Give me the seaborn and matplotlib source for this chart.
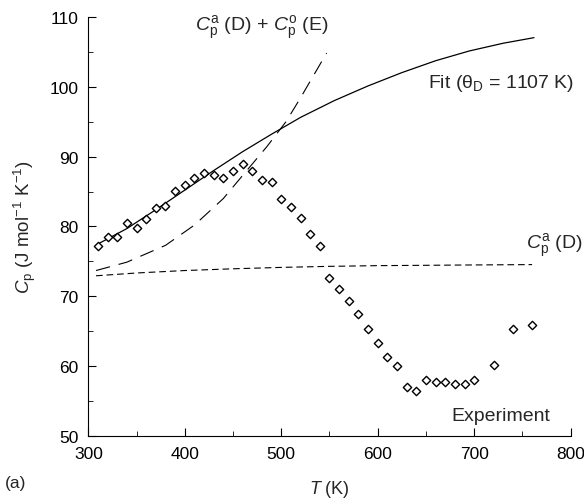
import numpy as np
import pandas as pd
import matplotlib
matplotlib.use("Agg")
import matplotlib.pyplot as plt
import seaborn as sns

# ---- data ----
exp_T = [310, 320, 330, 340, 350, 360, 370, 380, 390, 400,
         410, 420, 430, 440, 450, 460, 470, 480, 490, 500,
         510, 520, 530, 540, 550, 560, 570, 580, 590, 600,
         610, 620, 630, 640, 650, 660, 670, 680, 690, 700,
         720, 740, 760]
exp_Cp = [77.25, 78.45, 78.5, 80.5, 79.8, 81.0, 82.6, 82.9, 85.1, 86.0,
          86.9, 87.6, 87.3, 87.0, 87.9, 89.0, 87.9, 86.7, 86.3, 84.0,
          82.8, 81.2, 78.9, 77.2, 72.7, 71.0, 69.4, 67.5, 65.3, 63.3,
          61.3, 60.1, 57.1, 56.5, 58.05, 57.8, 57.7, 57.5, 57.5, 58.0,
          60.2, 65.4, 65.9]

fit_T = [310, 340, 370, 400, 430, 460, 490, 520, 555, 590, 625, 660, 695, 730, 762]
fit_Cp = [77.5, 79.7, 82.4, 85.2, 88.0, 90.7, 93.2, 95.6, 98.0, 100.1, 102.0, 103.7, 105.1, 106.2, 107.0]

de_T = [308, 340, 380, 410, 440, 460, 485, 505, 520, 547]
de_Cp = [73.7, 74.9, 77.3, 80.2, 84.0, 87.3, 91.4, 95.0, 98.4, 104.8]

d_T = [308, 350, 400, 450, 500, 550, 600, 650, 700, 760]
d_Cp = [72.95, 73.35, 73.7, 73.95, 74.15, 74.3, 74.4, 74.45, 74.5, 74.55]

x_ticks = [300, 400, 500, 600, 700, 800]
y_ticks = [50, 60, 70, 80, 90, 100, 110]

# ---- style ----
sns.set_theme(style="ticks")
plt.rcParams["font.family"] = ["Liberation Sans", "DejaVu Sans"]
plt.rcParams["mathtext.fontset"] = "custom"
plt.rcParams["mathtext.rm"] = "Liberation Sans"
plt.rcParams["mathtext.it"] = "Liberation Sans:italic"
plt.rcParams["mathtext.bf"] = "Liberation Sans:bold"

fig = plt.figure(figsize=(5.84, 5.02), dpi=100)
ax = fig.add_axes([0.1512, 0.1289, 0.8260, 0.8359])

df_exp = pd.DataFrame({"T": exp_T, "Cp": exp_Cp})
df_fit = pd.DataFrame({"T": fit_T, "Cp": fit_Cp})
df_de = pd.DataFrame({"T": de_T, "Cp": de_Cp})
df_d = pd.DataFrame({"T": d_T, "Cp": d_Cp})

sns.lineplot(data=df_fit, x="T", y="Cp", ax=ax, color="black", lw=0.9,
             estimator=None, sort=False)
sns.lineplot(data=df_de, x="T", y="Cp", ax=ax, color="black", lw=0.8,
             estimator=None, sort=False, linestyle=(0, (13, 8)))
sns.lineplot(data=df_d, x="T", y="Cp", ax=ax, color="black", lw=0.8,
             estimator=None, sort=False, linestyle=(0, (6, 3.5)))
sns.scatterplot(data=df_exp, x="T", y="Cp", ax=ax, marker="D", s=18,
                facecolor="white", edgecolor="black", linewidth=1.0, zorder=5)

ax.set_xlim(300, 800)
ax.set_ylim(50, 110)
ax.set_xticks(x_ticks)
ax.set_yticks(y_ticks)
ax.set_xticks(np.arange(350, 800, 100), minor=True)
ax.set_yticks(np.arange(55, 110, 10), minor=True)

for s in ["top", "right"]:
    ax.spines[s].set_visible(False)
for s in ["left", "bottom"]:
    ax.spines[s].set_linewidth(0.8)
    ax.spines[s].set_color("black")

ax.tick_params(which="major", direction="in", length=6, width=0.8,
               labelsize=12.5, pad=7, colors="black")
ax.tick_params(which="minor", direction="in", length=3.6, width=0.7)

ax.set_xlabel(r"$\mathit{T}$ (K)", fontsize=13, labelpad=12)
ax.set_ylabel(r"$\mathit{C}_\mathrm{p}$ (J mol$^{-1}$ K$^{-1}$)", fontsize=13.5, labelpad=8)

ax.text(549, 108.6, r"$\mathit{C}_\mathrm{p}^\mathrm{a}$ (D) + $\mathit{C}_\mathrm{p}^\mathrm{o}$ (E)",
        ha="right", va="center", fontsize=14)
ax.text(652, 99.9, r"Fit (θ$_\mathrm{D}$ = 1107 K)", ha="left", va="baseline", fontsize=14)
ax.text(754, 76.9, r"$\mathit{C}_\mathrm{p}^\mathrm{a}$ (D)", ha="left", va="baseline", fontsize=14)
ax.text(676, 52.4, "Experiment", ha="left", va="baseline", fontsize=14)

fig.text(0.008, 0.028, "(a)", ha="left", va="baseline", fontsize=12.5)

fig.savefig("out.png", dpi=100)
